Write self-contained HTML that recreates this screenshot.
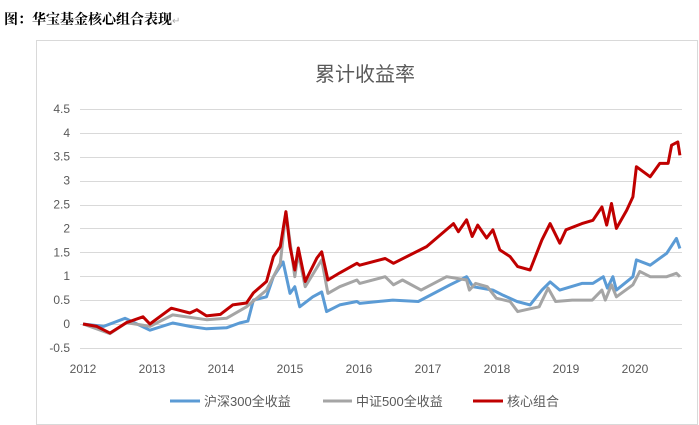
<!DOCTYPE html>
<html><head><meta charset="utf-8"><style>
body{margin:0;width:699px;height:425px;background:#fff;overflow:hidden;font-family:"Liberation Sans","Noto Sans CJK SC",sans-serif;}
.cap{position:absolute;left:4px;top:9px;font:bold 14px "Liberation Serif","Noto Serif CJK SC",serif;color:#000;}
</style></head><body>
<div class="cap">图：华宝基金核心组合表现<span style="color:#aaa;font-weight:normal;font-size:10px">↵</span></div>
<svg id="chart" width="699" height="425" style="position:absolute;left:0;top:0">
<rect x="36.5" y="40.5" width="661" height="384" fill="none" stroke="#d9d9d9"/>
<text x="365" y="81" text-anchor="middle" font-size="20" fill="#595959" font-family="Liberation Sans, Noto Sans CJK SC, sans-serif">累计收益率</text>
<g id="grid"></g><g id="ylabels"></g><g id="xlabels"></g><g id="series"></g>
<g id="legend" font-size="13" fill="#595959">
<line x1="170" y1="401" x2="200" y2="401" stroke="#5b9bd5" stroke-width="3"/>
<text x="204" y="406">沪深300全收益</text>
<line x1="323" y1="401" x2="352" y2="401" stroke="#a5a5a5" stroke-width="3"/>
<text x="356" y="406">中证500全收益</text>
<line x1="473" y1="401" x2="503" y2="401" stroke="#c00000" stroke-width="3"/>
<text x="507" y="406">核心组合</text>
</g>
</svg>
<script>
const yTicks=[-0.5,0,0.5,1,1.5,2,2.5,3,3.5,4,4.5];
const yTickLabels=["-0.5","0","0.5","1","1.5","2","2.5","3","3.5","4","4.5"];
const xTicks=[2012,2013,2014,2015,2016,2017,2018,2019,2020];
const xTickLabels=["2012","2013","2014","2015","2016","2017","2018","2019","2020"];
const hsT=[2012,2012.3,2012.61,2012.97,2013.3,2013.55,2013.79,2014.08,2014.27,2014.39,2014.47,2014.66,2014.76,2014.9,2015.0,2015.07,2015.14,2015.33,2015.46,2015.53,2015.72,2015.97,2016.01,2016.49,2016.86,2017.32,2017.56,2017.65,2017.94,2018.09,2018.29,2018.48,2018.65,2018.77,2018.91,2019.23,2019.39,2019.54,2019.6,2019.68,2019.73,2019.97,2020.02,2020.22,2020.46,2020.6,2020.65];
const hsV=[0,-0.05,0.12,-0.13,0.02,-0.05,-0.1,-0.08,0.02,0.06,0.5,0.57,0.99,1.3,0.64,0.78,0.36,0.57,0.67,0.26,0.4,0.47,0.43,0.5,0.47,0.82,0.99,0.78,0.71,0.6,0.47,0.4,0.71,0.88,0.71,0.85,0.85,0.99,0.75,0.99,0.71,0.99,1.34,1.23,1.48,1.79,1.58];
const zzT=[2012,2012.39,2012.63,2012.97,2013.3,2013.79,2014.08,2014.37,2014.66,2014.86,2014.94,2015.07,2015.12,2015.22,2015.46,2015.55,2015.72,2015.97,2016.01,2016.38,2016.5,2016.63,2016.9,2017.27,2017.56,2017.6,2017.69,2017.86,2017.99,2018.19,2018.3,2018.42,2018.61,2018.74,2018.85,2019.09,2019.38,2019.52,2019.57,2019.66,2019.73,2019.97,2020.07,2020.22,2020.46,2020.6,2020.65];
const zzV=[0,-0.2,0.03,-0.05,0.19,0.09,0.12,0.36,0.71,1.27,2.35,0.99,1.48,0.78,1.34,0.64,0.78,0.92,0.85,0.99,0.82,0.92,0.71,0.99,0.92,0.71,0.85,0.78,0.54,0.47,0.26,0.3,0.36,0.75,0.47,0.5,0.5,0.71,0.5,0.82,0.57,0.82,1.1,0.99,0.99,1.06,0.99];
const coT=[2012,2012.2,2012.39,2012.63,2012.87,2012.97,2013.28,2013.55,2013.65,2013.79,2013.99,2014.17,2014.37,2014.47,2014.66,2014.76,2014.86,2014.94,2015.0,2015.07,2015.12,2015.22,2015.39,2015.46,2015.55,2015.72,2015.97,2016.01,2016.38,2016.5,2016.98,2017.37,2017.44,2017.56,2017.64,2017.72,2017.85,2017.94,2018.04,2018.19,2018.3,2018.48,2018.65,2018.77,2018.91,2019.0,2019.23,2019.39,2019.52,2019.59,2019.66,2019.73,2019.88,2019.97,2020.02,2020.22,2020.36,2020.48,2020.53,2020.62,2020.65];
const coV=[0,-0.05,-0.19,0.03,0.15,0,0.33,0.23,0.3,0.17,0.2,0.4,0.44,0.65,0.89,1.41,1.62,2.35,1.62,1.13,1.59,0.89,1.38,1.51,0.92,1.07,1.27,1.23,1.37,1.27,1.62,2.1,1.93,2.18,1.83,2.07,1.8,1.97,1.55,1.41,1.2,1.13,1.76,2.1,1.69,1.97,2.1,2.17,2.45,2.07,2.52,2.0,2.38,2.66,3.29,3.08,3.36,3.36,3.74,3.81,3.53];
const NS='http://www.w3.org/2000/svg';
const xS=t=>83+(t-2012)*69;
const yS=v=>324-v*47.8;
const g=id=>document.getElementById(id);
yTicks.forEach((v,i)=>{
 const l=document.createElementNS(NS,'line');
 l.setAttribute('x1',80);l.setAttribute('x2',682);l.setAttribute('y1',Math.round(yS(v))+0.5);l.setAttribute('y2',Math.round(yS(v))+0.5);
 l.setAttribute('stroke','#d9d9d9');
 
 
 g('grid').appendChild(l);
 const t=document.createElementNS(NS,'text');
 t.setAttribute('x',70);t.setAttribute('y',yS(v)+4);t.setAttribute('text-anchor','end');t.setAttribute('font-size','12');t.setAttribute('fill','#595959');
 t.textContent=yTickLabels[i];
 
 
 g('ylabels').appendChild(t);
});
xTicks.forEach((v,i)=>{
 const t=document.createElementNS(NS,'text');
 t.setAttribute('x',xS(v));t.setAttribute('y',373);t.setAttribute('text-anchor','middle');t.setAttribute('font-size','12');t.setAttribute('fill','#595959');
 t.textContent=xTickLabels[i];
 
 
 g('xlabels').appendChild(t);
});
function draw(T,V,color,name){
 const p=document.createElementNS(NS,'polyline');
 p.setAttribute('points',T.map((t,i)=>xS(t).toFixed(1)+','+yS(V[i]).toFixed(1)).join(' '));
 p.setAttribute('fill','none');p.setAttribute('stroke',color);p.setAttribute('stroke-width','3');p.setAttribute('stroke-linejoin','round');
 
 
 g('series').appendChild(p);
}
draw(hsT,hsV,'#5b9bd5','line-hs300');
draw(zzT,zzV,'#a5a5a5','line-zz500');
draw(coT,coV,'#c00000','line-core-portfolio');
</script>
</body></html>
